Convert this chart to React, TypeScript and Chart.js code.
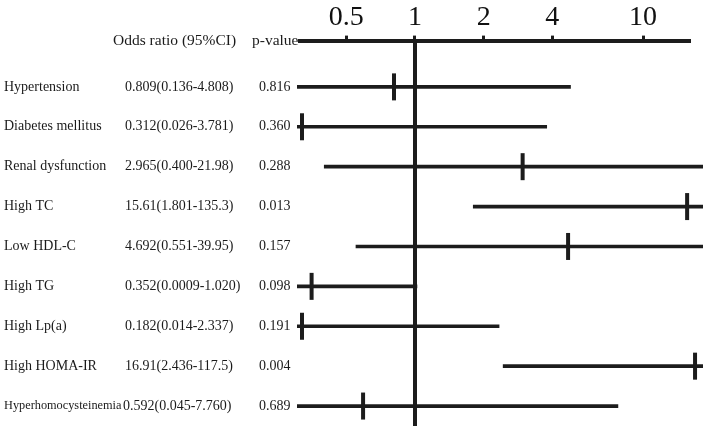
import React, { useEffect, useRef } from 'react';
import { Chart, registerables } from 'chart.js';

Chart.register(...registerables);

const categories = [
  'Hypertension',
  'Diabetes mellitus',
  'Renal dysfunction',
  'High TC',
  'Low HDL-C',
  'High TG',
  'High Lp(a)',
  'High HOMA-IR',
  'Hyperhomocysteinemia',
];
const oddsRatio = [0.809, 0.312, 2.965, 15.61, 4.692, 0.352, 0.182, 16.91, 0.592];
const ciLower = [0.136, 0.026, 0.4, 1.801, 0.551, 0.0009, 0.014, 2.436, 0.045];
const ciUpper = [4.808, 3.781, 21.98, 135.3, 39.95, 1.02, 2.337, 117.5, 7.76];
const orText = [
  '0.809(0.136-4.808)',
  '0.312(0.026-3.781)',
  '2.965(0.400-21.98)',
  '15.61(1.801-135.3)',
  '4.692(0.551-39.95)',
  '0.352(0.0009-1.020)',
  '0.182(0.014-2.337)',
  '16.91(2.436-117.5)',
  '0.592(0.045-7.760)',
];
const pValues = ['0.816', '0.360', '0.288', '0.013', '0.157', '0.098', '0.191', '0.004', '0.689'];
const tickValues = [0.5, 1, 2, 4, 10];
const tickLabels = ['0.5', '1', '2', '4', '10'];
const headers = ['Odds ratio (95%CI)', 'p-value'];

const FONT = '"Liberation Serif", "Times New Roman", serif';
const INK = '#1c1c1c';

const forestPlugin = {
  id: 'forest',
  beforeDatasetsDraw(chart: any) {
    const { ctx, chartArea, scales } = chart;
    const x1 = scales.x.getPixelForValue(1);
    ctx.save();
    ctx.strokeStyle = INK;
    ctx.lineWidth = 4;
    ctx.beginPath();
    ctx.moveTo(x1, chartArea.top);
    ctx.lineTo(x1, chart.height);
    ctx.stroke();
    ctx.restore();
  },
  afterDatasetsDraw(chart: any) {
    const { ctx, chartArea, scales } = chart;
    ctx.save();
    ctx.strokeStyle = INK;
    ctx.lineWidth = 4;
    oddsRatio.forEach((v, i) => {
      let x = scales.x.getPixelForValue(v);
      x = Math.max(chartArea.left + 2, Math.min(chartArea.right + 11, x));
      const y = scales.y.getPixelForValue(i);
      ctx.beginPath();
      ctx.moveTo(x, y - 13.5);
      ctx.lineTo(x, y + 13.5);
      ctx.stroke();
    });
    ctx.restore();
  },
  afterDraw(chart: any) {
    const { ctx, scales } = chart;
    ctx.save();
    ctx.fillStyle = '#1a1a1a';
    ctx.textBaseline = 'middle';
    ctx.textAlign = 'left';
    ctx.font = `15.5px ${FONT}`;
    ctx.fillText(headers[0], 113, 40.5);
    ctx.fillText(headers[1], 252, 40.5);
    const last = categories.length - 1;
    categories.forEach((c, i) => {
      const y = scales.y.getPixelForValue(i);
      ctx.font = i === last ? `12.3px ${FONT}` : `14px ${FONT}`;
      ctx.fillText(c, 4, y);
      ctx.font = `14px ${FONT}`;
      ctx.fillText(orText[i], i === last ? 123 : 125, y);
      ctx.fillText(pValues[i], 259, y);
    });
    ctx.restore();
  },
};

export default function App() {
  const ref = useRef<HTMLCanvasElement | null>(null);
  useEffect(() => {
    if (!ref.current) return;
    const chart = new Chart(ref.current, {
      type: 'bar',
      data: {
        datasets: [
          {
            data: categories.map((_, i) => ({ x: [ciLower[i], ciUpper[i]], y: i })) as any,
            backgroundColor: INK,
            borderWidth: 0,
            barThickness: 3,
            clip: { left: 3, top: 0, right: 13, bottom: 0 } as any,
          },
        ],
      },
      options: {
        indexAxis: 'y',
        animation: false,
        responsive: false,
        maintainAspectRatio: false,
        layout: { padding: { left: 300, right: 14, top: 0, bottom: 0 } },
        plugins: { legend: { display: false }, tooltip: { enabled: false } },
        scales: {
          x: {
            type: 'logarithmic',
            position: 'top',
            bounds: 'data',
            min: 0.3131,
            max: 16.07,
            afterBuildTicks: (s: any) => {
              s.ticks = tickValues.map((v) => ({ value: v }));
            },
            ticks: {
              autoSkip: false,
              maxRotation: 0,
              padding: 1,
              color: '#111',
              font: { size: 28, family: FONT },
              callback: (_v: any, i: number) => tickLabels[i],
            },
            grid: {
              drawOnChartArea: false,
              drawTicks: true,
              tickLength: 5,
              tickWidth: 3,
              tickColor: INK,
            },
            border: { display: true, width: 4, color: INK },
          },
          y: {
            type: 'linear',
            reverse: true,
            offset: false,
            grace: 0,
            bounds: 'data',
            min: -1.16,
            max: 8.5,
            display: false,
            grid: { offset: false },
          },
        },
      },
      plugins: [forestPlugin],
    } as any);
    return () => chart.destroy();
  }, []);
  return (
    <div style={{ position: 'fixed', left: 0, top: 0, width: 704, height: 426, background: '#fff' }}>
      <canvas ref={ref} width={704} height={426} style={{ display: 'block' }} />
    </div>
  );
}
